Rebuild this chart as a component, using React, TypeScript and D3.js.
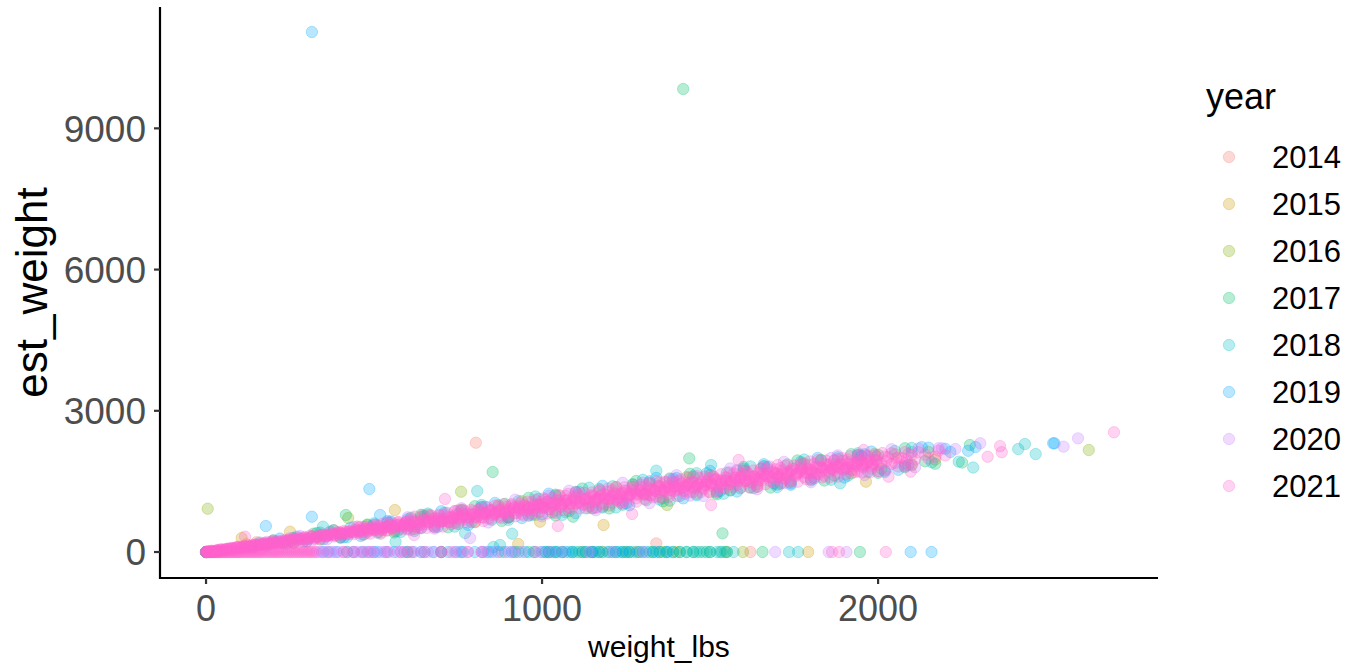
import React from "react";
import * as d3 from "d3";

const years = ["2014", "2015", "2016", "2017", "2018", "2019", "2020", "2021"];
const colors = ["#F8766D", "#CD9600", "#7CAE00", "#00BE67", "#00BFC4", "#00A9FF", "#C77CFF", "#FF61CC"];
const xTicks = [0, 1000, 2000];
const yTicks = [0, 3000, 6000, 9000];

type P = [number, number];

const y2014: P[] = [[0,0],[150,207],[300,224],[400,412],[450,541],[600,498],[700,656],[750,885],[900,742],[1000,1020],[1050,1209],[1200,986],[1300,1254],[1350,1483],[1500,1262],[1650,1767],[1700,1672],[1800,1552],[1950,2027],[2080,1834],[803,2322],[1340,184],[420,0],[880,0],[1150,0],[1620,0]];

const y2015: P[] = [[0,0],[106,297],[120,166],[250,432],[260,192],[380,462],[520,410],[562,892],[660,787],[800,634],[940,1081],[1080,868],[1220,1376],[1360,1143],[1500,1632],[1640,1388],[1780,1874],[1920,1670],[2050,2077],[2170,1965],[929,170],[1183,574],[1964,1494],[994,644],[1792,0],[600,0],[980,0],[1400,0],
[560,449],[870,993],[1150,927],[1430,1589],[1710,1451],[1990,2083],[1280,0],[1180,0]];

const y2016: P[] = [[0,0],[5,920],[200,246],[340,263],[423,722],[480,570],[620,488],[760,895],[900,732],[1040,1199],[1180,966],[1320,1464],[1460,1236],[1600,1732],[1740,1498],[1880,1974],[2010,1771],[2150,2127],[759,1281],[1372,998],[2627,2167],[700,0],[1250,0],[1550,0],[1598,0],
[640,747],[980,790],[1270,1435],[1560,1316],[1830,1959],[2100,1842],[1120,0],[1360,0]];

const y2017: P[] = [[0,0],[180,136],[330,403],[416,786],[470,371],[610,728],[750,595],[890,1022],[1030,839],[1170,1337],[1310,1104],[1450,1607],[1590,1353],[1730,1859],[1870,1625],[2000,2062],[2140,1928],[2273,2273],[2250,1900],[1420,9836],[853,1700],[1092,750],[1537,397],[1438,1990],[920,0],[960,0],[1010,0],[1060,0],[1110,0],[1150,0],[1200,0],[1240,0],[1290,0],[1330,0],[1370,0],[1410,0],[1450,0],[1500,0],[1656,0],[1946,0],
[260,297],[400,317],[540,624],[680,536],[820,954],[960,771],[1100,1278],[1240,1005],[1380,1562],[1520,1260],[1660,1826],[1800,1522],[1940,2058],[2080,1804],[1620,1370],[2170,1875],
[1020,0],[1090,0],[1170,0],[1260,0],[1320,0],[1390,0],[1470,0],[1530,0],[1040,0],[1130,0],[1220,0],[1350,0],[1430,0],[1490,0],[1545,0],
[240,180],[320,389],[400,302],[480,585],[560,414],[640,792],[720,526],[800,974],[880,662],[960,1151],[1040,779],[1120,1348],[1200,926],[1280,1509],[1360,1078],[1440,1663],[1520,1225],[1600,1807],[1680,1369],[1760,1946],[1840,1518],[1920,2080],[2000,1682],[2080,2204]];

const y2018: P[] = [[0,0],[160,202],[290,224],[348,538],[430,516],[570,449],[710,836],[850,683],[990,1130],[1130,927],[1270,1435],[1410,1191],[1550,1687],[1690,1453],[1830,1939],[1970,1705],[2100,2122],[807,1296],[911,389],[855,106],[875,149],[771,404],[564,219],[1340,1728],[1503,1848],[1887,1459],[2469,2082],[2417,2188],[2437,2294],[2283,1795],[2240,1920],[600,0],[650,0],[760,0],[840,0],[930,0],[1030,0],[1080,0],[1130,0],[1180,0],[1270,0],[1350,0],[1430,0],[1480,0],[1520,0],[1570,0],[1735,0],[1762,0],
[230,178],[370,438],[510,410],[650,767],[790,634],[930,1081],[1070,849],[1210,1396],[1350,1113],[1490,1673],[1630,1359],[1770,1915],[1910,1621],[2050,2147],[1150,937],[1560,1306],[2160,1906],
[1040,0],[1100,0],[1170,0],[1230,0],[1300,0],[1390,0],[1460,0],[1535,0],[1010,0],[1060,0],[1150,0],[1210,0],[1250,0],[1330,0],[1370,0],[1410,0],[1450,0],[1500,0],[1550,0],
[260,195],[340,413],[420,317],[500,610],[580,428],[660,817],[740,540],[820,999],[900,682],[980,1180],[1060,789],[1140,1367],[1220,946],[1300,1534],[1380,1092],[1460,1676],[1540,1238],[1620,1820],[1700,1382],[1780,1964],[1860,1536],[1940,2098],[2020,1700],[2100,2212]];

const y2019: P[] = [[0,0],[140,97],[178,552],[270,325],[315,750],[315,11047],[410,312],[486,1338],[518,786],[550,649],[690,536],[830,963],[970,791],[1110,1278],[1250,1035],[1390,1552],[1530,1299],[1670,1805],[1810,1561],[1950,2047],[2090,1853],[2200,2192],[2215,2125],[2268,2150],[2290,2230],[2521,2309],[2525,2309],[350,0],[420,0],[500,0],[560,0],[640,0],[720,0],[800,0],[870,0],[950,0],[1020,0],[1090,0],[1160,0],[1220,0],[1310,0],[2097,0],[2159,0],
[200,246],[350,273],[500,580],[640,507],[760,885],[900,732],[1040,1219],[1180,946],[1320,1504],[1460,1206],[1600,1772],[1740,1458],[1880,2014],[2020,1730],[2150,2217],[600,698],[1000,800],[1400,1572],[1700,1432],[1960,2076],
[365,0],[465,0],[510,0],[590,0],[675,0],[765,0],[850,0],[910,0],[1000,0],[1070,0],[1120,0],[1195,0],[1260,0],[1340,0],
[388,0],[440,0],[480,0],[535,0],[615,0],[700,0],[745,0],[825,0],[890,0],[975,0],[1045,0],[1145,0],[1240,0],[1285,0],[1375,0],
[220,286],[300,224],[380,462],[460,341],[540,659],[620,448],[700,866],[780,574],[860,1043],[940,721],[1020,1240],[1100,828],[1180,1406],[1260,995],[1340,1573],[1420,1140],[1500,1722],[1580,1284],[1660,1866],[1740,1428],[1820,2000],[1900,1582],[1980,2134],[2060,1746],[2130,2229]];

const y2020: P[] = [[0,0],[250,295],[400,312],[540,629],[680,546],[820,954],[960,791],[1100,1268],[1240,1035],[1380,1542],[1520,1290],[1660,1806],[1800,1552],[1940,2048],[2080,1824],[2180,2204],[786,297],[2595,2415],[2552,2238],[2304,2309],[330,0],[380,0],[450,0],[520,0],[580,0],[660,0],[740,0],[820,0],[900,0],[980,0],[1060,0],[1140,0],[1210,0],[1300,0],[1694,0],[1853,0],[1906,0],
[180,215],[320,254],[460,536],[600,478],[740,865],[880,722],[1020,1190],[1160,937],[1300,1474],[1440,1198],[1580,1744],[1720,1460],[1860,1996],[2000,1722],[2120,2200],[2190,2203],[2230,2189],
[345,0],[395,0],[435,0],[485,0],[530,0],[570,0],[620,0],[680,0],[755,0],[835,0],[915,0],[995,0],
[338,0],[372,0],[408,0],[462,0],[498,0],[545,0],[598,0],[640,0],[700,0],[778,0],[860,0],[940,0],[1025,0],
[280,339],[360,273],[440,531],[520,385],[600,738],[680,496],[760,930],[840,628],[920,1112],[1000,760],[1080,1303],[1160,887],[1240,1470],[1320,1039],[1400,1632],[1480,1189],[1560,1776],[1640,1333],[1720,1915],[1800,1482],[1880,2054],[1960,1636],[2040,2183],[2110,1801]];

const y2021a: P[] = [
[0,0],[6,10],[12,8],[18,22],[24,18],[30,35],[36,28],[42,48],[48,40],[54,60],[60,52],[66,72],[72,62],[78,84],[84,74],[90,98],[96,86],[102,110],[108,96],[114,124],[120,108],[126,136],[132,118],[138,150],[144,128],[150,162],[156,140],[162,175],[168,150],[174,188],[180,160],[186,200],[192,170],[198,215],[204,182],[210,228],[216,195],[222,240],[228,208],[234,255],[240,218],[246,268],[252,228],[258,280],[264,240],[270,295],[276,250],[282,305],[288,262],[294,318],[300,272],
[310,349],[320,284],[330,333],[340,283],[350,368],[360,343],[370,413],[380,332],[390,397],[400,372],[410,447],[420,382],[430,431],[440,381],[450,466],[460,437],[470,531],[480,414],[490,501],[500,462],[510,563],[520,468],[530,533],[540,459],[550,574],[560,535],[570,629],[580,512],[590,599],[600,560],
[610,697],[620,542],[630,639],[640,517],[650,692],[660,625],[670,767],[680,578],[690,709],[700,642],[710,795],[720,640],[730,737],[740,615],[750,790],[760,723],[770,865],[780,676],[790,807],[800,740],[810,893],[820,738],[830,835],[840,713],[850,888],[860,821],[870,963],[880,774],[890,905],[900,838],[910,991],[920,836],[930,933],[940,811],[950,986],[960,919],[970,1061],[980,872],[990,1003],[1000,936],
[1010,1116],[1020,916],[1030,1037],[1040,879],[1050,1099],[1060,1011],[1070,1189],[1080,946],[1090,1110],[1100,1022],[1110,1214],[1120,1014],[1130,1135],[1140,977],[1150,1197],[1160,1109],[1170,1287],[1180,1044],[1190,1208],[1200,1120],[1210,1312],[1220,1112],[1230,1233],[1240,1075],[1250,1295],[1260,1207],[1270,1385],[1280,1142],[1290,1306],[1300,1218],[1310,1410],[1320,1210],[1330,1331],[1340,1173],[1350,1393],[1360,1305],[1370,1483],[1380,1240],[1390,1404],[1400,1316],
[1410,1507],[1420,1306],[1430,1427],[1440,1268],[1450,1487],[1460,1398],[1470,1575],[1480,1332],[1490,1495],[1500,1406],[1510,1597],[1520,1396],[1530,1517],[1540,1358],[1550,1577],[1560,1488],[1570,1665],[1580,1422],[1590,1585],[1600,1496],
[1610,1696],[1620,1480],[1630,1609],[1640,1438],[1650,1672],[1660,1576],[1670,1765],[1680,1504],[1690,1678],[1700,1582],[1710,1786],[1720,1570],[1730,1699],[1740,1528],[1750,1762],[1760,1666],[1770,1855],[1780,1594],[1790,1768],[1800,1672],[1810,1876],[1820,1660],[1830,1789],[1840,1618],[1850,1852],[1860,1756],[1870,1945],[1880,1684],[1890,1858],[1900,1762],[1910,1966],[1920,1750],[1930,1879],[1940,1708],[1950,1942],[1960,1846],[1970,2035],[1980,1774],[1990,1948],[2000,1852],
[2020,2030],[2040,1868],[2060,2006],[2080,1884],[2100,2062],[2120,2120],[2150,1987],[2180,2154],[2200,2052]];

const y2021b: P[] = [
[5,0],[15,27],[25,7],[35,36],[45,59],[55,41],[65,63],[75,83],[85,77],[95,112],[105,94],[115,124],[125,104],[135,133],[145,156],[155,138],[165,160],[175,180],[185,174],[195,209],[205,191],[215,221],[225,201],[235,230],[245,253],[255,235],[265,257],[275,277],[285,271],[295,306],
[305,284],[315,334],[325,284],[335,333],[345,368],[355,323],[365,358],[375,388],[385,367],[395,427],[405,382],[415,432],[425,382],[435,431],[445,466],
[455,411],[465,456],[475,494],[485,461],[495,541],[505,474],[515,540],[525,466],[535,531],[545,576],[555,509],[565,554],[575,592],[585,559],[595,639],
[605,560],[615,658],[625,536],[635,633],[645,698],[655,587],[665,652],[675,706],[685,649],[695,769],[705,658],[715,756],[725,634],[735,731],[745,796],[755,685],[765,750],[775,804],[785,747],[795,867],[805,756],[815,854],[825,732],[835,829],[845,894],[855,783],[865,848],[875,902],[885,845],[895,965],[905,854],[915,952],[925,830],[935,927],[945,992],[955,881],[965,946],[975,1000],[985,943],[995,1063],
[1005,943],[1015,1065],[1025,907],[1035,1028],[1045,1108],[1055,964],[1065,1044],[1075,1110],[1085,1035],[1095,1185],[1105,1041],[1115,1163],[1125,1005],[1135,1126],[1145,1206],[1155,1062],[1165,1142],[1175,1208],[1185,1133],[1195,1283],[1205,1139],[1215,1261],[1225,1103],[1235,1224],[1245,1304],[1255,1160],[1265,1240],[1275,1306],[1285,1231],[1295,1381],[1305,1237],[1315,1359],[1325,1201],[1335,1322],[1345,1402],[1355,1258],[1365,1338],[1375,1404],[1385,1329],[1395,1479],
[1405,1335],[1415,1456],[1425,1297],[1435,1418],[1445,1497],[1455,1352],[1465,1431],[1475,1496],[1485,1421],[1495,1570],[1505,1425],[1515,1546],[1525,1387],[1535,1508],[1545,1587],[1555,1442],[1565,1521],[1575,1586],[1585,1511],[1595,1660],
[1605,1512],[1615,1641],[1625,1470],[1635,1599],[1645,1683],[1655,1527],[1665,1611],[1675,1680],[1685,1599],[1695,1758],[1705,1602],[1715,1731],[1725,1560],[1735,1689],[1745,1773],[1755,1617],[1765,1701],[1775,1770],[1785,1689],[1795,1848],[1805,1692],[1815,1821],[1825,1650],[1835,1779],[1845,1863],[1855,1707],[1865,1791],[1875,1860],[1885,1779],[1895,1938],[1905,1782],[1915,1911],[1925,1740],[1935,1869],[1945,1953],[1955,1797],[1965,1881],[1975,1950],[1985,1869],[1995,2028],
[2010,1876],[2030,2014],[2050,1897],[2070,1990],[2090,2083],[2110,1961],[2140,2068],[2170,2025]];

const y2021c: P[] = [
[302,296],[317,326],[332,310],[347,348],[362,347],[377,369],[392,399],[407,384],[422,422],[437,420],
[452,443],[467,479],[482,451],[497,498],[512,491],[527,516],[542,552],[557,525],[572,572],[587,564],
[602,590],[617,638],[632,586],[647,651],[662,632],[677,663],[692,711],[707,660],[722,725],[737,705],[752,737],[767,785],[782,733],[797,798],[812,779],[827,810],[842,858],[857,807],[872,872],[887,852],[902,884],[917,932],[932,880],[947,945],[962,926],[977,957],[992,1005],
[1007,945],[1022,1023],[1037,995],[1052,1031],[1067,1088],[1082,1018],[1097,1096],[1112,1069],[1127,1104],[1142,1161],[1157,1092],[1172,1170],[1187,1142],[1202,1178],[1217,1235],[1232,1165],[1247,1243],[1262,1216],[1277,1251],[1292,1308],[1307,1239],[1322,1317],[1337,1289],[1352,1325],[1367,1382],[1382,1312],[1397,1390],[1412,1362],[1427,1396],[1442,1452],[1457,1381],[1472,1458],[1487,1429],[1502,1464],[1517,1519],[1532,1449],[1547,1525],[1562,1497],[1577,1531],[1592,1587],
[1607,1513],[1622,1595],[1637,1562],[1652,1599],[1667,1657],[1682,1581],[1697,1662],[1712,1630],[1727,1666],[1742,1725],[1757,1648],[1772,1730],[1787,1697],[1802,1734],[1817,1792],[1832,1716],[1847,1797],[1862,1765],[1877,1801],[1892,1860],[1907,1783],[1922,1865],[1937,1832],[1952,1869],[1967,1927],[1982,1851],[1997,1932],[2025,1935],[2055,1992],[2085,1959]];

const y2021e: P[] = [
[453,519],[465,370],[477,535],[489,389],[501,570],[513,428],[525,601],[537,458],[549,628],[561,471],[573,637],[585,487],[597,653],
[609,472],[621,753],[633,507],[645,782],[657,513],[669,781],[681,523],[693,792],[705,541],[717,834],[729,589],[741,870],[753,625],[765,900],[777,630],[789,898],[801,641],[813,910],[825,659],[837,951],[849,707],[861,988],[873,743],[885,1017],[897,748],[909,1016],[921,759],[933,1027],[945,776],[957,1069],[969,825],[981,1105],[993,860],
[1005,1140],[1017,819],[1029,1148],[1041,834],[1053,1195],[1065,889],[1077,1233],[1089,927],[1101,1265],[1113,928],[1125,1258],[1137,936],[1149,1266],[1161,952],[1173,1313],[1185,1006],[1197,1351],[1209,1045],[1221,1383],[1233,1045],[1245,1375],[1257,1054],[1269,1384],[1281,1069],[1293,1430],[1305,1124],[1317,1469],[1329,1162],[1341,1500],[1353,1163],[1365,1493],[1377,1171],[1389,1501],[1401,1187],[1413,1547],[1425,1240],[1437,1583],[1449,1276],[1461,1613],[1473,1275],[1485,1604],[1497,1281],[1509,1610],[1521,1295],[1533,1655],[1545,1348],[1557,1691],[1569,1384],[1581,1721],[1593,1383],
[1605,1727],[1617,1371],[1629,1731],[1641,1385],[1653,1779],[1665,1441],[1677,1817],[1689,1479],[1701,1847],[1713,1475],[1725,1835],[1737,1479],[1749,1839],[1761,1493],[1773,1887],[1785,1549],[1797,1925],[1809,1587],[1821,1955],[1833,1583],[1845,1943],[1857,1587],[1869,1947],[1881,1601],[1893,1995],[1905,1657],[1917,2033],[1929,1695],[1941,2063],[1953,1691],[1965,2051],[1977,1695],[1989,2055],[2001,1709],[2013,2103],[2025,1765],[2040,2098],[2060,1816],[2080,2124],[2100,1862]];

const y2021f: P[] = [
[7,19],[21,12],[35,37],[49,36],[63,69],[77,72],[91,100],[105,94],[119,118],[133,117],[147,151],[161,153],[175,182],[189,175],[203,200],[217,198],[231,232],[245,235],[259,263],[273,257],[287,281],
[301,270],[315,324],[329,317],[343,361],[357,335],[371,369],[385,352],[399,406],[413,400],[427,443],[441,417],
[455,453],[469,425],[483,494],[497,480],[511,536],[525,494],[539,535],[553,507],[567,577],[581,562],[595,618],
[609,564],[623,622],[637,569],[651,671],[665,641],[679,720],[693,646],[707,704],[721,652],[735,753],[749,723],[763,803],[777,728],[791,786],[805,734],[819,836],[833,805],[847,885],[861,811],[875,869],[889,816],[903,918],[917,888],[931,967],[945,893],[959,951],[973,899],[987,1000],
[1001,967],[1015,1065],[1029,966],[1043,1036],[1057,966],[1071,1092],[1085,1049],[1099,1147],[1113,1049],[1127,1118],[1141,1048],[1155,1174],[1169,1132],[1183,1229],[1197,1131],[1211,1201],[1225,1131],[1239,1256],[1253,1214],[1267,1312],[1281,1213],[1295,1283],[1309,1213],[1323,1339],[1337,1296],[1351,1394],[1365,1296],[1379,1365],[1393,1295],[1407,1420],[1421,1377],[1435,1474],[1449,1374],[1463,1443],[1477,1371],[1491,1496],[1505,1453],[1519,1549],[1533,1450],[1547,1518],[1561,1447],[1575,1572],[1589,1528],
[1603,1630],[1617,1522],[1631,1595],[1645,1518],[1659,1650],[1673,1603],[1687,1705],[1701,1598],[1715,1671],[1729,1593],[1743,1726],[1757,1678],[1771,1781],[1785,1674],[1799,1746],[1813,1669],[1827,1801],[1841,1754],[1855,1857],[1869,1749],[1883,1822],[1897,1744],[1911,1877],[1925,1830],[1939,1932],[1953,1825],[1967,1897],[1981,1820],[1995,1953]];

const y2021d: P[] = [
[1047,552],[1268,807],[619,361],[1503,998],[2097,1706],[2031,1600],[1957,2167],[2702,2543],[2326,2025],[2363,2250],[2368,2120],[116,326],[711,1126],[1585,1954],
[2023,0],[1884,0],[1863,0],[360,0],[410,0],[440,0],[470,0],[490,0],[540,0],[580,0],[610,0],[650,0],[700,0],[730,0],[780,0],[820,0],
[0,0],[3,0],[6,0],[10,0],[14,0],[18,0],[22,0],[27,0],[32,0],[38,0],[44,0],[50,0],[57,0],[64,0],[72,0],[80,0],[88,0],[96,0],[105,0],[114,0],[123,0],[132,0],[142,0],[152,0],[162,0],[172,0],[183,0],[194,0],[205,0],[216,0],[228,0],[240,0],[252,0],[264,0],[276,0],[288,0],[300,0],[312,0],[325,0],
[1,0],[4,0],[8,0],[12,0],[16,0],[20,0],[25,0],[30,0],[35,0],[41,0],[47,0],[54,0],[61,0],[68,0],[76,0],[84,0],[92,0],[100,0],[109,0],[118,0],[128,0],[137,0],[147,0],[157,0],[167,0],[178,0],[189,0],[200,0],[211,0],[222,0],[234,0],[246,0],[258,0],[270,0],[282,0],[294,0],[306,0],[318,0]];

const y2021: P[] = [...y2021e, ...y2021a, ...y2021b, ...y2021c, ...y2021f, ...y2021d];

const series: P[][] = [y2014, y2015, y2016, y2017, y2018, y2019, y2020, y2021];

const FONT = "'Liberation Sans', Arial, Helvetica, sans-serif";

export default function App() {
  const W = 1355, H = 668;
  const left = 160, right = 1158, top = 7, bottom = 578;
  const x = d3.scaleLinear().domain([-137, 2833]).range([left, right]);
  const y = d3.scaleLinear().domain([-552, 11578]).range([bottom, top]);
  const R = 5.7;
  const A = 0.28;

  return (
    <svg width={W} height={H} style={{ position: "absolute", left: 0, top: 0, background: "#fff" }} fontFamily={FONT}>
      <rect x={0} y={0} width={W} height={H} fill="#fff" />
      <g>
        {series.map((pts, i) =>
          pts.map((p, j) => (
            <circle key={i + "-" + j} cx={x(p[0])} cy={y(p[1])} r={R}
              fill={colors[i]} fillOpacity={A} stroke={colors[i]} strokeOpacity={A} strokeWidth={1} />
          ))
        )}
      </g>
      <line x1={left} x2={right} y1={bottom} y2={bottom} stroke="#000" strokeWidth={2.2} />
      <line x1={left} x2={left} y1={top} y2={bottom + 1.1} stroke="#000" strokeWidth={2.2} />
      {xTicks.map((t) => (
        <g key={"xt" + t}>
          <line x1={x(t)} x2={x(t)} y1={bottom} y2={bottom + 6} stroke="#333" strokeWidth={2.2} />
          <text x={x(t)} y={621} textAnchor="middle" fontSize={36} fill="#4D4D4D">{t}</text>
        </g>
      ))}
      {yTicks.map((t) => (
        <g key={"yt" + t}>
          <line x1={left - 6} x2={left} y1={y(t)} y2={y(t)} stroke="#333" strokeWidth={2.2} />
          <text x={146} y={y(t) + 13.2} textAnchor="end" fontSize={37} fill="#4D4D4D">{t}</text>
        </g>
      ))}
      <text x={(left + right) / 2} y={657} textAnchor="middle" fontSize={30} fill="#000">weight_lbs</text>
      <text transform={`translate(47,${(top + bottom) / 2}) rotate(-90)`} textAnchor="middle" fontSize={44} fill="#000">est_weight</text>
      <text x={1206} y={109} fontSize={36} fill="#000">year</text>
      {years.map((yr, i) => {
        const cy = 157 + 47 * i;
        return (
          <g key={"lg" + yr}>
            <circle cx={1229} cy={cy} r={R} fill={colors[i]} fillOpacity={A} stroke={colors[i]} strokeOpacity={A} strokeWidth={1} />
            <text x={1272} y={cy + 11.3} fontSize={31} fill="#000">{yr}</text>
          </g>
        );
      })}
    </svg>
  );
}
